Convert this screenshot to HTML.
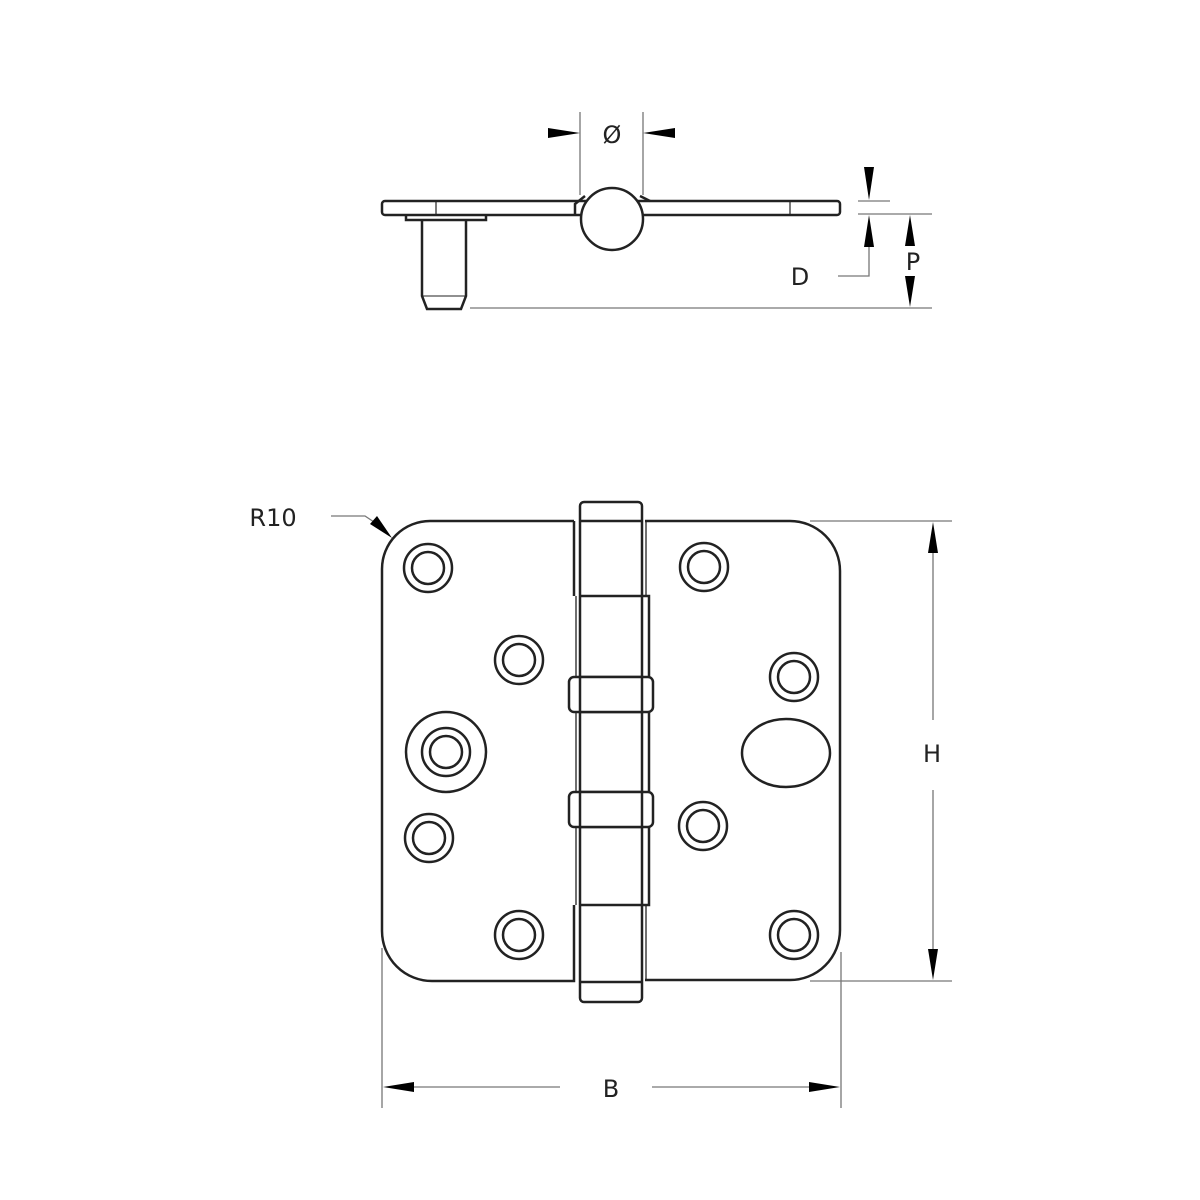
<!DOCTYPE html>
<html><head><style>html,body{margin:0;padding:0;background:#fff}svg{display:block}</style></head>
<body>
<svg width="1200" height="1200" viewBox="0 0 1200 1200" xmlns="http://www.w3.org/2000/svg">
<g fill="none" stroke="#222" stroke-width="2.5">
<rect x="382" y="201" width="458" height="14" rx="3"/>
<line x1="436" y1="201" x2="436" y2="215" stroke-width="1.2"/>
<line x1="790" y1="201" x2="790" y2="215" stroke-width="1.2"/>
<path d="M406,215 L406,220 L486,220 L486,215"/>
<path d="M422,220 L422,296 L427,309 L461,309 L466,296 L466,220"/>
<line x1="422" y1="296" x2="466" y2="296" stroke-width="1"/>
<circle cx="612" cy="219" r="31" fill="#fff"/>
<path d="M575,215 L575,204 L585,196"/>
<path d="M640,196 L650,201"/>
</g>
<g stroke="#777" stroke-width="1.3" fill="none">
<line x1="580" y1="112" x2="580" y2="195"/>
<line x1="643" y1="112" x2="643" y2="195"/>
<line x1="858" y1="201" x2="890" y2="201"/>
<line x1="858" y1="214" x2="932" y2="214"/>
<line x1="470" y1="308" x2="932" y2="308"/>
<path d="M838,276 L869,276 L869,240"/>
<line x1="810" y1="521" x2="952" y2="521"/>
<line x1="810" y1="981" x2="952" y2="981"/>
<line x1="933" y1="550" x2="933" y2="720"/>
<line x1="933" y1="790" x2="933" y2="950"/>
<line x1="382" y1="948" x2="382" y2="1108"/>
<line x1="841" y1="952" x2="841" y2="1108"/>
<line x1="412" y1="1087" x2="560" y2="1087"/>
<line x1="652" y1="1087" x2="810" y2="1087"/>
<path d="M331,516 L365,516 L374,522"/>
</g>
<g fill="#000">
<path d="M548,128 L580,133 L548,138Z"/>
<path d="M675,128 L643,133 L675,138Z"/>
<path d="M864,167 L869,200 L874,167Z"/>
<path d="M864,247 L869,215 L874,247Z"/>
<path d="M905,246 L910,215 L915,246Z"/>
<path d="M905,276 L910,307 L915,276Z"/>
<path d="M928,553 L933,522 L938,553Z"/>
<path d="M928,949 L933,980 L938,949Z"/>
<path d="M414,1082 L383,1087 L414,1092Z"/>
<path d="M809,1082 L840,1087 L809,1092Z"/>
<path d="M370,524 L392,538 L377,516Z"/>
</g>
<g fill="none" stroke="#222" stroke-width="2.5">
<path d="M574,521 L430,521 A48,48 0 0 0 382,569 L382,931 A50,50 0 0 0 432,981 L574,981 L574,905"/>
<path d="M574,521 L574,596"/>
<line x1="576" y1="596" x2="576" y2="905" stroke-width="1.3"/>
<path d="M645,521 L790,521 A50,50 0 0 1 840,571 L840,930 A50,50 0 0 1 790,980 L645,980"/>
<line x1="646" y1="521" x2="646" y2="596" stroke-width="1.3"/>
<line x1="646" y1="905" x2="646" y2="980" stroke-width="1.3"/>
<path d="M642,596 L649,596 L649,905 L642,905"/>
<rect x="580" y="502" width="62" height="500" rx="4" fill="#fff"/>
<rect x="569" y="677" width="84" height="35" rx="5" fill="#fff"/>
<rect x="569" y="792" width="84" height="35" rx="5" fill="#fff"/>
<rect x="580" y="677" width="62" height="35" fill="#fff"/>
<rect x="580" y="792" width="62" height="35" fill="#fff"/>
<line x1="580" y1="521" x2="642" y2="521"/>
<line x1="580" y1="596" x2="642" y2="596"/>
<line x1="580" y1="905" x2="642" y2="905"/>
<line x1="580" y1="982" x2="642" y2="982"/>
<g>
<circle cx="428" cy="568" r="24"/><circle cx="428" cy="568" r="16"/>
<circle cx="519" cy="660" r="24"/><circle cx="519" cy="660" r="16"/>
<circle cx="429" cy="838" r="24"/><circle cx="429" cy="838" r="16"/>
<circle cx="519" cy="935" r="24"/><circle cx="519" cy="935" r="16"/>
<circle cx="704" cy="567" r="24"/><circle cx="704" cy="567" r="16"/>
<circle cx="794" cy="677" r="24"/><circle cx="794" cy="677" r="16"/>
<circle cx="703" cy="826" r="24"/><circle cx="703" cy="826" r="16"/>
<circle cx="794" cy="935" r="24"/><circle cx="794" cy="935" r="16"/>
<circle cx="446" cy="752" r="40"/><circle cx="446" cy="752" r="24"/><circle cx="446" cy="752" r="16"/>
<ellipse cx="786" cy="753" rx="44" ry="34"/>
</g>
</g>
<g font-family="'DejaVu Sans','Liberation Sans',sans-serif" font-size="24" fill="#222">
<text x="612" y="143" text-anchor="middle">Ø</text>
<text x="800" y="285" text-anchor="middle">D</text>
<text x="913" y="270" text-anchor="middle">P</text>
<text x="932" y="762" text-anchor="middle">H</text>
<text x="611" y="1097" text-anchor="middle">B</text>
<text x="273" y="526" text-anchor="middle">R10</text>
</g>
</svg>
</body></html>
